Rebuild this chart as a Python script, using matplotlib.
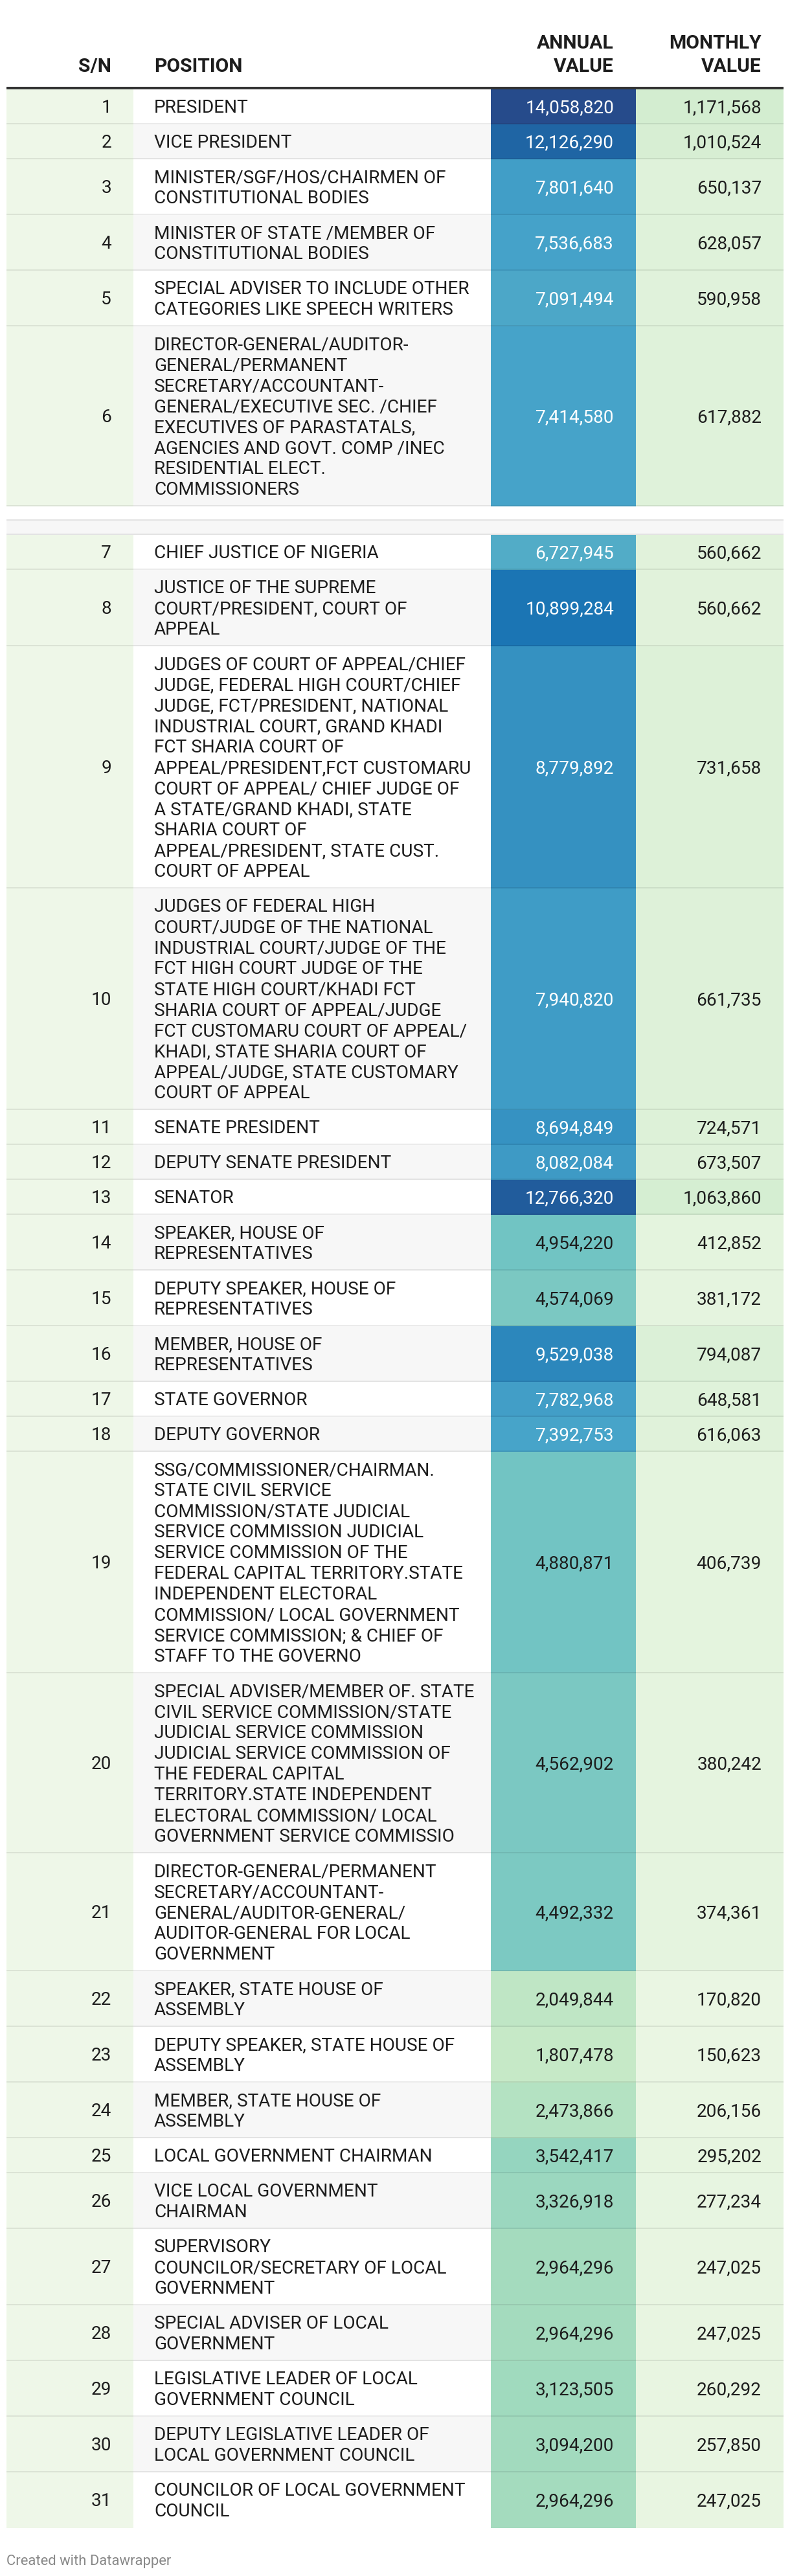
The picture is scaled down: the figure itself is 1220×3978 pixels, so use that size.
import numpy as np
import matplotlib.pyplot as plt
from matplotlib.patches import Rectangle
from matplotlib.colors import LinearSegmentedColormap, Normalize

plt.rcParams['font.family'] = ['Roboto', 'DejaVu Sans']

# data
sn = list(range(1, 32))
positions = [
    "PRESIDENT",
    "VICE PRESIDENT",
    "MINISTER/SGF/HOS/CHAIRMEN OF\nCONSTITUTIONAL BODIES",
    "MINISTER OF STATE /MEMBER OF\nCONSTITUTIONAL BODIES",
    "SPECIAL ADVISER TO INCLUDE OTHER\nCATEGORIES LIKE SPEECH WRITERS",
    "DIRECTOR-GENERAL/AUDITOR-\nGENERAL/PERMANENT\nSECRETARY/ACCOUNTANT-\nGENERAL/EXECUTIVE SEC. /CHIEF\n"
    "EXECUTIVES OF PARASTATALS,\nAGENCIES AND GOVT. COMP /INEC\nRESIDENTIAL ELECT.\nCOMMISSIONERS",
    "CHIEF JUSTICE OF NIGERIA",
    "JUSTICE OF THE SUPREME\nCOURT/PRESIDENT, COURT OF\nAPPEAL",
    "JUDGES OF COURT OF APPEAL/CHIEF\nJUDGE, FEDERAL HIGH COURT/CHIEF\nJUDGE, FCT/PRESIDENT, NATIONAL\n"
    "INDUSTRIAL COURT, GRAND KHADI\nFCT SHARIA COURT OF\nAPPEAL/PRESIDENT,FCT CUSTOMARU\n"
    "COURT OF APPEAL/ CHIEF JUDGE OF\nA STATE/GRAND KHADI, STATE\nSHARIA COURT OF\n"
    "APPEAL/PRESIDENT, STATE CUST.\nCOURT OF APPEAL",
    "JUDGES OF FEDERAL HIGH\nCOURT/JUDGE OF THE NATIONAL\nINDUSTRIAL COURT/JUDGE OF THE\n"
    "FCT HIGH COURT JUDGE OF THE\nSTATE HIGH COURT/KHADI FCT\nSHARIA COURT OF APPEAL/JUDGE\n"
    "FCT CUSTOMARU COURT OF APPEAL/\nKHADI, STATE SHARIA COURT OF\nAPPEAL/JUDGE, STATE CUSTOMARY\nCOURT OF APPEAL",
    "SENATE PRESIDENT",
    "DEPUTY SENATE PRESIDENT",
    "SENATOR",
    "SPEAKER, HOUSE OF\nREPRESENTATIVES",
    "DEPUTY SPEAKER, HOUSE OF\nREPRESENTATIVES",
    "MEMBER, HOUSE OF\nREPRESENTATIVES",
    "STATE GOVERNOR",
    "DEPUTY GOVERNOR",
    "SSG/COMMISSIONER/CHAIRMAN.\nSTATE CIVIL SERVICE\nCOMMISSION/STATE JUDICIAL\n"
    "SERVICE COMMISSION JUDICIAL\nSERVICE COMMISSION OF THE\nFEDERAL CAPITAL TERRITORY.STATE\n"
    "INDEPENDENT ELECTORAL\nCOMMISSION/ LOCAL GOVERNMENT\nSERVICE COMMISSION; & CHIEF OF\nSTAFF TO THE GOVERNO",
    "SPECIAL ADVISER/MEMBER OF. STATE\nCIVIL SERVICE COMMISSION/STATE\nJUDICIAL SERVICE COMMISSION\n"
    "JUDICIAL SERVICE COMMISSION OF\nTHE FEDERAL CAPITAL\nTERRITORY.STATE INDEPENDENT\n"
    "ELECTORAL COMMISSION/ LOCAL\nGOVERNMENT SERVICE COMMISSIO",
    "DIRECTOR-GENERAL/PERMANENT\nSECRETARY/ACCOUNTANT-\nGENERAL/AUDITOR-GENERAL/\nAUDITOR-GENERAL FOR LOCAL\nGOVERNMENT",
    "SPEAKER, STATE HOUSE OF\nASSEMBLY",
    "DEPUTY SPEAKER, STATE HOUSE OF\nASSEMBLY",
    "MEMBER, STATE HOUSE OF\nASSEMBLY",
    "LOCAL GOVERNMENT CHAIRMAN",
    "VICE LOCAL GOVERNMENT\nCHAIRMAN",
    "SUPERVISORY\nCOUNCILOR/SECRETARY OF LOCAL\nGOVERNMENT",
    "SPECIAL ADVISER OF LOCAL\nGOVERNMENT",
    "LEGISLATIVE LEADER OF LOCAL\nGOVERNMENT COUNCIL",
    "DEPUTY LEGISLATIVE LEADER OF\nLOCAL GOVERNMENT COUNCIL",
    "COUNCILOR OF LOCAL GOVERNMENT\nCOUNCIL",
]
annual = [14058820, 12126290, 7801640, 7536683, 7091494, 7414580, 6727945, 10899284,
          8779892, 7940820, 8694849, 8082084, 12766320, 4954220, 4574069, 9529038,
          7782968, 7392753, 4880871, 4562902, 4492332, 2049844, 1807478, 2473866,
          3542417, 3326918, 2964296, 2964296, 3123505, 3094200, 2964296]
monthly = [1171568, 1010524, 650137, 628057, 590958, 617882, 560662, 560662, 731658,
           661735, 724571, 673507, 1063860, 412852, 381172, 794087, 648581, 616063,
           406739, 380242, 374361, 170820, 150623, 206156, 295202, 277234, 247025,
           247025, 260292, 257850, 247025]
headers = ["S/N", "POSITION", "ANNUAL\nVALUE", "MONTHLY\nVALUE"]
spacer_after = 6

# colour scales
annual_stops = [(1807478, '#c6e9c7'), (3.0e6, '#a3dbbe'), (5.0e6, '#6fc3c3'),
                (7.5e6, '#45a2c9'), (10.9e6, '#1b75b4'), (14058820, '#264b8b')]
anorm = Normalize(min(annual), max(annual))
acmap = LinearSegmentedColormap.from_list(
    'annual', [(float(anorm(v)), c) for v, c in annual_stops])
mnorm = Normalize(min(monthly), max(monthly))
mcmap = LinearSegmentedColormap.from_list('monthly', ['#eaf6e3', '#d3edd0'])

W, H = 1220, 3978
fig = plt.figure(figsize=(W / 100, H / 100), dpi=100)
ax = fig.add_axes([0, 0, 1, 1])
ax.set_xlim(0, W)
ax.set_ylim(H, 0)
ax.axis('off')

px = 72 / 100
fs_body = 28 * px
fs_head = 30 * px
dark = '#1d1d1d'

# column edges
x0, x_sn, x_pos, x_ann, x_end = 10, 206, 758, 982, 1210
pad = 34

# header
ax.text(x_sn - pad, 111, headers[0], ha='right', va='baseline', fontsize=fs_head,
        fontweight='bold', color=dark)
ax.text(x_sn + 32, 111, headers[1], ha='left', va='baseline', fontsize=fs_head,
        fontweight='bold', color=dark)
for xr, lab in [(x_ann - pad, headers[2]), (x_end - pad, headers[3])]:
    l1, l2 = lab.split('\n')
    ax.text(xr, 75, l1, ha='right', va='baseline', fontsize=fs_head, fontweight='bold', color=dark)
    ax.text(xr, 111, l2, ha='right', va='baseline', fontsize=fs_head, fontweight='bold', color=dark)
ax.add_patch(Rectangle((x0, 134), x_end - x0, 4, color='#333333', lw=0))

line_h = 32
border = dict(color='black', alpha=0.08, lw=0)

y = 138
for i in range(len(sn)):
    lines = positions[i].split('\n')
    h = 22 + line_h * len(lines)
    pos_bg = 'white' if i % 2 == 0 else '#f7f7f7'
    ax.add_patch(Rectangle((x0, y), x_sn - x0, h, color='#eef7e8', lw=0))
    ax.add_patch(Rectangle((x_sn, y), x_pos - x_sn, h, color=pos_bg, lw=0))
    ax.add_patch(Rectangle((x_pos, y), x_ann - x_pos, h, color=acmap(anorm(annual[i])), lw=0))
    ax.add_patch(Rectangle((x_ann, y), x_end - x_ann, h, color=mcmap(mnorm(monthly[i])), lw=0))

    yc = y + (h - 2) / 2
    for j, ln in enumerate(lines):
        yl = yc + (j - (len(lines) - 1) / 2) * line_h + 10
        ax.text(x_sn + 32, yl, ln, ha='left', va='baseline', fontsize=fs_body, color=dark)
    ax.text(x_sn - pad, yc + 10, str(sn[i]), ha='right', va='baseline', fontsize=fs_body, color=dark)
    tc = 'white' if annual[i] > 6e6 else dark
    ax.text(x_ann - pad, yc + 10, f"{annual[i]:,}", ha='right', va='baseline',
            fontsize=fs_body, color=tc)
    ax.text(x_end - pad, yc + 10, f"{monthly[i]:,}", ha='right', va='baseline',
            fontsize=fs_body, color=dark)

    if i < len(sn) - 1:
        ax.add_patch(Rectangle((x0, y + h - 2), x_end - x0, 2, **border))
    y += h

    if sn[i] == spacer_after:
        # blank gap and empty grey row
        y += 20
        ax.add_patch(Rectangle((x0, y), x_end - x0, 24, color='#f7f7f7', lw=0))
        ax.add_patch(Rectangle((x0, y), x_end - x0, 2, **border))
        ax.add_patch(Rectangle((x0, y + 22), x_end - x0, 2, **border))
        y += 24

ax.text(x0, 3961, "Created with Datawrapper", ha='left', va='baseline',
        fontsize=22 * px, color='#888888')

fig.savefig('out.png', dpi=100, facecolor='white')
